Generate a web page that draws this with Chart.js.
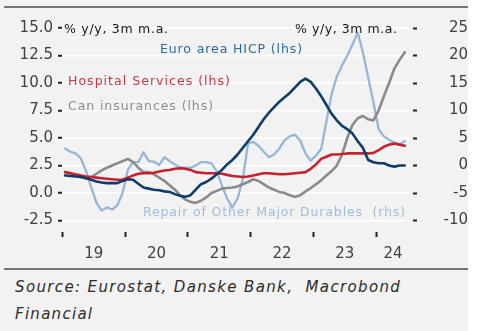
<!DOCTYPE html>
<html>
<head>
<meta charset="utf-8">
<script src="https://cdn.jsdelivr.net/npm/chart.js@4.4.1/dist/chart.umd.min.js"></script>
<style>
  html, body { margin:0; padding:0; background:#ffffff; }
  body { width:491px; height:331px; position:relative; overflow:hidden; }
  #panel { position:absolute; left:0; top:0; width:468px; height:331px; background:#f2f2f2; }
  .rule { position:absolute; left:4px; width:464px; height:2px; background:#747474; }
  .lbl { position:absolute; font-family:"DejaVu Sans", sans-serif; font-size:12.5px; line-height:16px; white-space:pre; }
  .src { position:absolute; left:15px; font-family:"DejaVu Sans", sans-serif; font-style:italic;
         font-size:15px; line-height:27px; color:#2b2b2b; white-space:pre; }
  .fit { display:inline-block; }
  canvas { position:absolute; left:0; top:0; }
</style>
</head>
<body>
<div id="panel">
  <div class="rule" style="top:6px"></div>
  <canvas id="c" width="468" height="263" style="width:468px;height:263px"></canvas>
  <span class="lbl fit" data-w="104" style="left:64px;top:21px;color:#151515">% y/y, 3m m.a.</span>
  <span class="lbl fit" data-w="102" style="left:295px;top:21px;color:#151515">% y/y, 3m m.a.</span>
  <span class="lbl fit" data-w="142" style="left:160px;top:41px;color:#2d6a9f">Euro area HICP (lhs)</span>
  <span class="lbl fit" data-w="162" style="left:68px;top:73px;color:#cf3442">Hospital Services (lhs)</span>
  <span class="lbl fit" data-w="145" style="left:68px;top:98px;color:#8e8e8e">Can insurances (lhs)</span>
  <span class="lbl fit" data-w="262" style="left:143px;top:204px;color:#9fbedc">Repair of Other Major Durables  (rhs)</span>
  <div class="rule" style="top:268px"></div>
  <span class="src fit" data-w="385" style="top:274px">Source: Eurostat, Danske Bank,  Macrobond</span>
  <span class="src fit" data-w="77" style="top:301px">Financial</span>
</div>
<script>
// ---- data (monthly, Jan 2019 .. Jun 2024) ----
const yearLabels = ['19', '20', '21', '22', '23', '24'];
const leftTicks  = [-2.5, 0, 2.5, 5, 7.5, 10, 12.5, 15];
const rightTicks = [-10, -5, 0, 5, 10, 15, 20, 25];

const hicp = [1.6,1.55,1.5,1.45,1.35,1.2,1.05,0.95,0.9,0.9,
              0.9,1.1,1.25,1.2,0.85,0.5,0.4,0.3,0.25,0.15,
              0.1,-0.1,-0.25,-0.35,-0.2,0.3,0.8,1.0,1.3,1.7,
              2.1,2.6,3.0,3.5,4.1,4.7,5.3,6.0,6.7,7.3,
              7.8,8.3,8.7,9.1,9.6,10.1,10.4,10.1,9.5,8.8,
              8.0,7.2,6.6,6.1,5.8,5.4,4.7,4.1,3.0,2.8,
              2.7,2.7,2.5,2.4,2.5,2.5];

const hospital = [1.9,1.8,1.7,1.6,1.5,1.45,1.4,1.35,1.3,1.25,
                  1.2,1.2,1.4,1.6,1.75,1.8,1.8,1.85,1.95,2.05,
                  2.1,2.2,2.25,2.2,2.1,1.9,1.85,1.8,1.8,1.8,
                  1.75,1.65,1.55,1.5,1.45,1.5,1.6,1.7,1.8,1.8,
                  1.75,1.7,1.7,1.75,1.8,1.85,1.9,2.2,2.6,3.1,
                  3.3,3.5,3.5,3.55,3.6,3.6,3.6,3.6,3.6,3.65,
                  3.9,4.2,4.4,4.5,4.4,4.3];

const carInsurance = [1.9,1.8,1.6,1.45,1.35,1.45,1.75,2.05,2.3,2.5,
                      2.7,2.9,3.1,2.8,2.3,1.9,1.9,1.7,1.4,1.1,
                      0.7,0.3,-0.2,-0.6,-0.8,-0.9,-0.7,-0.4,0.0,0.2,
                      0.4,0.45,0.5,0.6,0.8,1.0,1.25,1.1,0.8,0.5,
                      0.3,0.1,0.0,-0.2,-0.35,-0.2,0.15,0.45,0.8,1.15,
                      1.6,2.0,2.5,3.5,5.0,6.2,6.8,7.0,6.7,6.6,
                      7.5,8.8,10.0,11.3,12.1,12.8];

const repairDurables = [3.1,2.5,2.2,1.3,-1.0,-4.0,-6.8,-8.2,-7.6,-8.0,
                        -7.2,-5.0,-0.8,0.6,0.6,2.4,0.8,0.7,0.1,1.5,
                        0.8,0.2,-0.3,-0.4,-0.4,0.0,0.6,0.6,0.4,-1.0,
                        -3.6,-6.0,-7.6,-6.0,-2.5,4.0,4.3,3.6,2.5,1.5,
                        2.0,3.1,4.6,5.3,5.6,4.5,2.2,0.9,1.8,3.0,
                        8.0,13.0,16.2,18.2,20.0,22.0,24.2,20.5,16.0,11.5,
                        6.6,5.3,4.7,4.2,3.8,4.4];

// ---- fit text widths to the reference (style only) ----
function fitLabels() {
  document.querySelectorAll('.fit').forEach(el => {
    el.style.letterSpacing = '0px';
    const w0 = el.getBoundingClientRect().width;
    const n = el.textContent.length;
    const target = parseFloat(el.dataset.w);
    if (n > 1) el.style.letterSpacing = ((target - w0) / (n - 1)).toFixed(2) + 'px';
  });
}
fitLabels();
if (document.fonts && document.fonts.ready) document.fonts.ready.then(fitLabels);
window.addEventListener('load', fitLabels);

// ---- helpers ----
const X_MIN = -0.6, X_MAX = 66.0;              // month index (0 = Jan 2019)
const yearBoundary = k => 12 * k - 0.5;          // Jan 1 of year k
const yearMid = k => (Math.max(yearBoundary(k), X_MIN) + Math.min(yearBoundary(k + 1), X_MAX)) / 2;
const toPoints = arr => arr.map((v, i) => ({ x: i, y: v }));

const tickFont = { family: 'DejaVu Sans', size: 15 };
const tickColor = '#404040';

new Chart(document.getElementById('c'), {
  type: 'line',
  data: {
    datasets: [
      { label: 'Euro area HICP (lhs)', data: toPoints(hicp), borderColor: '#0d3d68', borderWidth: 2.6, yAxisID: 'yL' },
      { label: 'Hospital Services (lhs)', data: toPoints(hospital), borderColor: '#c8202f', borderWidth: 2.6, yAxisID: 'yL' },
      { label: 'Can insurances (lhs)', data: toPoints(carInsurance), borderColor: '#8a8a8a', borderWidth: 2.6, yAxisID: 'yL' },
      { label: 'Repair of Other Major Durables (rhs)', data: toPoints(repairDurables), borderColor: '#94b7d9', borderWidth: 2.3, yAxisID: 'yR' }
    ]
  },
  options: {
    responsive: false,
    animation: false,
    devicePixelRatio: 1,
    layout: { padding: { top: 28, left: 0, right: 0, bottom: 0 } },
    plugins: { legend: { display: false }, tooltip: { enabled: false } },
    elements: {
      point: { radius: 0 },
      line: { tension: 0, borderCapStyle: 'round', borderJoinStyle: 'round', fill: false }
    },
    scales: {
      x: {
        type: 'linear', position: 'bottom', min: X_MIN, max: X_MAX, weight: 0,
        afterBuildTicks: s => { s.ticks = yearLabels.map((_, k) => ({ value: yearBoundary(k) })); },
        afterFit: s => { s.height = 8; },
        ticks: { display: false },
        grid: { drawOnChartArea: false, drawTicks: true, tickLength: 8, tickColor: '#222', tickWidth: 2,
                tickBorderDash: [5, 3], tickBorderDashOffset: 5 },
        border: { display: false }
      },
      x2: {
        type: 'linear', position: 'bottom', min: X_MIN, max: X_MAX, weight: 1,
        afterBuildTicks: s => { s.ticks = yearLabels.map((_, k) => ({ value: yearMid(k) })); },
        afterFit: s => { s.height = 26; },
        ticks: { callback: (v, i) => yearLabels[i], font: tickFont, color: tickColor, padding: 0,
                 maxRotation: 0, autoSkip: false },
        grid: { display: false },
        border: { display: false }
      },
      yL: {
        position: 'left', min: -3.27, max: 15,
        afterBuildTicks: s => { s.ticks = leftTicks.map(v => ({ value: v })); },
        afterFit: s => { s.width = 62; },
        ticks: { callback: v => v.toFixed(1), font: tickFont, color: tickColor, padding: 5 },
        grid: { color: '#ffffff', lineWidth: 1.5, drawTicks: true, tickLength: 4, tickColor: '#222', tickWidth: 2 },
        border: { display: false }
      },
      yR: {
        position: 'right', min: -11.54, max: 25,
        afterBuildTicks: s => { s.ticks = rightTicks.map(v => ({ value: v })); },
        afterFit: s => { s.width = 58; },
        ticks: { callback: v => String(v), font: tickFont, color: tickColor, padding: 13, crossAlign: 'far' },
        grid: { drawOnChartArea: false, drawTicks: true, tickLength: 7, tickColor: '#222', tickWidth: 2,
                tickBorderDash: [4, 3], tickBorderDashOffset: 4 },
        border: { display: false }
      }
    }
  }
});
</script>
</body>
</html>
